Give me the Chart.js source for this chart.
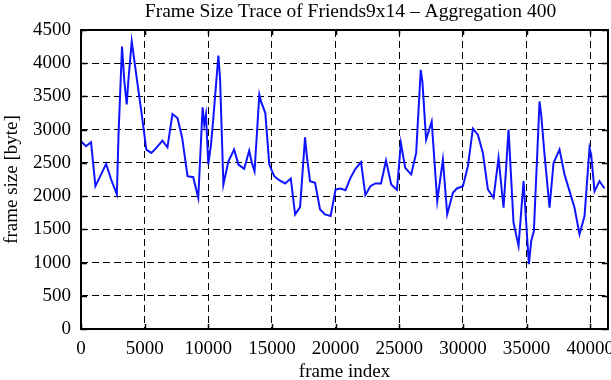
<!DOCTYPE html>
<html>
<head>
<meta charset="utf-8">
<script src="https://cdn.jsdelivr.net/npm/chart.js@4"></script>
<style>
  body { margin: 0; background: #fff; }
  #wrap { width: 611px; height: 380px; }
</style>
</head>
<body>
<div id="wrap"><canvas></canvas></div>
<script>
const titleText = "Frame Size Trace of Friends9x14 \u2013 Aggregation 400";

// frame index of each plotted vertex
const frameIndex = [
    0, 395, 790, 1132, 1448, 1974, 2369, 2816, 2948, 3223,
    3404, 3593, 3718, 3986, 4343, 4738, 5132, 5527, 5922, 6396,
    6791, 7185, 7580, 7949, 8370, 8817, 9212, 9554, 9686, 9817,
    10002, 10212, 10396, 10791, 10923, 11186, 11581, 12028, 12370, 12818,
    13213, 13424, 13634, 14010, 14140, 14480, 14790, 15180, 15570, 16040,
    16480, 16820, 17210, 17600, 17730, 17990, 18390, 18780, 19170, 19610,
    20000, 20390, 20780, 21170, 21560, 22000, 22340, 22730, 23120, 23570,
    23960, 24370, 24820, 25130, 25470, 25940, 26330, 26690, 26820, 27110,
    27550, 27984, 28429, 28770, 29215, 29529, 30000, 30393, 30785, 31178,
    31571, 31964, 32409, 32801, 33194, 33587, 33979, 34372, 34765, 35184,
    35367, 35576, 36021, 36152, 36414, 36807, 37121, 37592, 37985, 38378,
    38770, 39163, 39556, 39948, 40079, 40341, 40734, 41127
];

// frame size [byte] at those indices
const frameSize = [
    2825, 2750, 2810, 2150, 2275, 2485, 2250, 2025, 2925, 4250,
    3730, 3380, 3730, 4330, 3825, 3275, 2700, 2650, 2725, 2835,
    2735, 3235, 3175, 2875, 2300, 2285, 1975, 3335, 3075, 3225,
    2475, 2775, 3175, 4115, 3775, 2175, 2525, 2700, 2475, 2410,
    2685, 2500, 2375, 3525, 3425, 3250, 2475, 2300, 2240, 2190,
    2265, 1725, 1835, 2885, 2625, 2225, 2200, 1800, 1725, 1700,
    2100, 2115, 2090, 2275, 2410, 2510, 2015, 2150, 2190, 2190,
    2535, 2175, 2095, 2800, 2425, 2325, 2650, 3900, 3725, 2850,
    3125, 1925, 2550, 1725, 2050, 2115, 2150, 2450, 3015, 2925,
    2650, 2100, 1975, 2575, 1825, 3000, 1600, 1250, 2225, 975,
    1325, 1475, 3425, 3225, 2625, 1825, 2500, 2700, 2325, 2075,
    1825, 1425, 1700, 2725, 2625, 2075, 2225, 2115
];

const xTicks = [0, 5000, 10000, 15000, 20000, 25000, 30000, 35000, 40000];
const yTicks = [0, 500, 1000, 1500, 2000, 2500, 3000, 3500, 4000, 4500];
const xMax = 41400;
const yMax = 4500;

const serif = "'Liberation Serif', 'DejaVu Serif', serif";
Chart.defaults.color = "#000";
Chart.defaults.font.family = serif;
Chart.defaults.font.size = 19;

// gnuplot style frame: solid border, inward tick marks on every side, title
const frame = {
    id: "frame",
    afterDraw(chart) {
        const ctx = chart.ctx;
        const a = chart.chartArea;
        const xs = chart.scales.x, ys = chart.scales.y;
        ctx.save();
        ctx.strokeStyle = "#000";
        ctx.lineWidth = 1.5;
        ctx.setLineDash([]);
        ctx.beginPath();
        xs.ticks.forEach(t => {
            const p = Math.round(xs.getPixelForValue(t.value)) + 0.5;
            ctx.moveTo(p, a.bottom); ctx.lineTo(p, a.bottom - 5);
            ctx.moveTo(p, a.top); ctx.lineTo(p, a.top + 5);
        });
        ys.ticks.forEach(t => {
            const p = Math.round(ys.getPixelForValue(t.value)) + 0.5;
            ctx.moveTo(a.left, p); ctx.lineTo(a.left + 6, p);
            ctx.moveTo(a.right, p); ctx.lineTo(a.right - 6, p);
        });
        ctx.stroke();
        ctx.lineWidth = 2;
        ctx.strokeRect(a.left, a.top, a.right - a.left, a.bottom - a.top);

        // title, centred a little right of the plot centre like the original
        ctx.fillStyle = "#000";
        ctx.font = "19.5px " + serif;
        ctx.textAlign = "center";
        ctx.textBaseline = "middle";
        ctx.fillText(titleText, (a.left + a.right) / 2 + 6, 12);
        ctx.restore();
    }
};

document.addEventListener("DOMContentLoaded", () => {
    const canvas = document.querySelector("canvas");
    new Chart(canvas, {
        type: "line",
        data: {
            datasets: [{
                data: frameIndex.map((f, i) => ({ x: f, y: frameSize[i] })),
                borderColor: "#0f14ff",
                borderWidth: 2,
                pointRadius: 0,
                tension: 0,
                fill: false
            }]
        },
        options: {
            responsive: true,
            maintainAspectRatio: false,
            animation: false,
            layout: { padding: { left: 0, right: 3, top: 30, bottom: 0 } },
            plugins: {
                legend: { display: false },
                tooltip: { enabled: false },
                title: { display: false }
            },
            scales: {
                x: {
                    type: "linear",
                    min: 0,
                    max: xMax,
                    afterBuildTicks: (s) => { s.ticks = xTicks.map(v => ({ value: v })); },
                    afterFit: (s) => { s.height = 51; s.paddingLeft = 0; s.paddingRight = 0; },
                    ticks: {
                        autoSkip: false,
                        maxRotation: 0,
                        padding: 9,
                        callback: (v) => String(v)
                    },
                    grid: { color: "#000", lineWidth: 1, drawTicks: false },
                    border: { display: false, dash: [7, 4] },
                    title: {
                        display: true,
                        text: "frame index",
                        padding: { top: 0, bottom: -3 }
                    }
                },
                y: {
                    min: 0,
                    max: yMax,
                    afterBuildTicks: (s) => { s.ticks = yTicks.map(v => ({ value: v })); },
                    afterFit: (s) => { s.width = 81; s.paddingTop = 0; s.paddingBottom = 0; },
                    ticks: {
                        autoSkip: false,
                        padding: 10,
                        callback: (v) => String(v)
                    },
                    grid: { color: "#000", lineWidth: 1, drawTicks: false },
                    border: { display: false, dash: [7, 4] },
                    title: {
                        display: true,
                        text: "frame size [byte]",
                        padding: { top: 1, bottom: 0 }
                    }
                }
            }
        },
        plugins: [frame]
    });
});
</script>
</body>
</html>
